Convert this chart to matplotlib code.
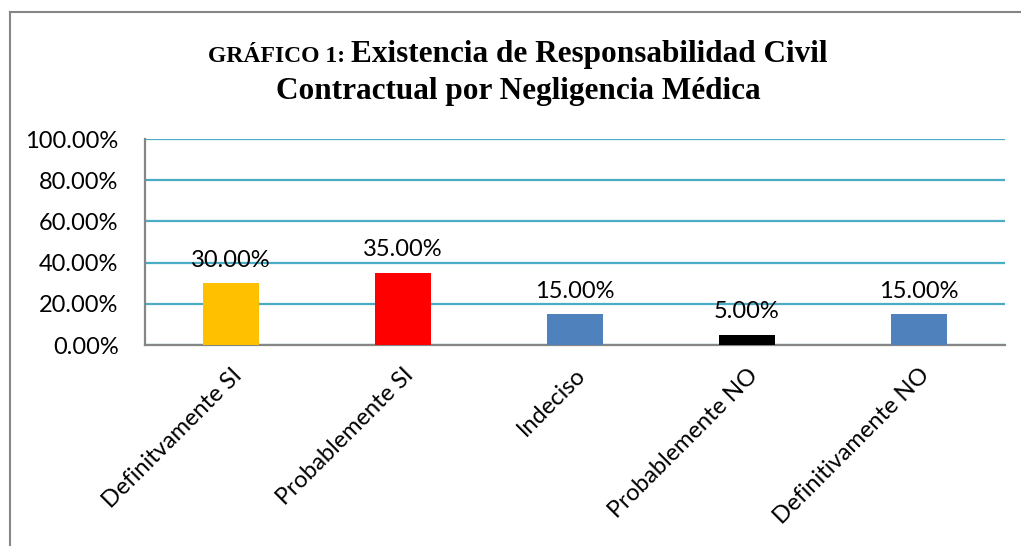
import matplotlib
matplotlib.use("Agg")
import matplotlib.pyplot as plt
from matplotlib.lines import Line2D
from matplotlib.ticker import FuncFormatter

categories = ["Definitvamente SI", "Probablemente SI", "Indeciso", "Probablemente NO", "Definitivamente NO"]
values = [30.0, 35.0, 15.0, 5.0, 15.0]
colors = ["#FFC000", "#FF0000", "#4F81BD", "#000000", "#4F81BD"]
yticks = [0, 20, 40, 60, 80, 100]

W, H = 1021, 546
fig = plt.figure(figsize=(W / 100, H / 100), dpi=100)
fig.patch.set_facecolor("white")

lab_font = "Lato"
fs = 17
ax = fig.add_axes([145 / W, 1 - 345 / H, (1005 - 145) / W, (345 - 139) / H])
x = range(len(categories))
bars = ax.bar(x, values, width=0.33, color=colors, zorder=3)
ax.set_xlim(-0.5, len(categories) - 0.5)
ax.set_ylim(0, 100)
ax.set_yticks(yticks)
ax.yaxis.set_major_formatter(FuncFormatter(lambda v, p: f"{v:.2f}%"))
ax.grid(axis="y", color="#4BACC6", linewidth=1.6, zorder=0)
for s in ["top", "right"]:
    ax.spines[s].set_visible(False)
for s in ["left", "bottom"]:
    ax.spines[s].set_color("#868686")
    ax.spines[s].set_linewidth(1.6)
ax.tick_params(axis="both", length=0, labelsize=fs, colors="black")
ax.tick_params(axis="y", pad=19)
for t in ax.get_yticklabels():
    t.set_fontfamily(lab_font)
ax.set_xticks(list(x))
ax.set_xticklabels(categories, rotation=45, ha="right", rotation_mode="anchor",
                   fontfamily=lab_font, fontsize=fs)
ax.tick_params(axis="x", pad=14)

for b, v in zip(bars, values):
    ax.annotate(f"{v:.2f}%", (b.get_x() + b.get_width() / 2, v), xytext=(0, 9),
                textcoords="offset points", ha="center", va="bottom",
                fontsize=fs, fontfamily=lab_font, zorder=4)

cx = 518
fig.text(cx / W, 1 - 99 / H, "Contractual por Negligencia Médica", fontfamily="Liberation Serif",
         fontweight="bold", fontsize=22.5, ha="center", va="baseline")

fig.canvas.draw()
r = fig.canvas.get_renderer()
small = fig.text(0, 1 - 62 / H, "GRÁFICO 1: ", fontfamily="Liberation Serif", fontweight="bold",
                 fontsize=17, ha="left", va="baseline")
big = fig.text(0, 1 - 62 / H, "Existencia de Responsabilidad Civil", fontfamily="Liberation Serif",
               fontweight="bold", fontsize=22.5, ha="left", va="baseline")
ws = small.get_window_extent(r).width
wb = big.get_window_extent(r).width
x0 = cx - (ws + wb) / 2
small.set_position((x0 / W, 1 - 62 / H))
big.set_position(((x0 + ws) / W, 1 - 62 / H))

fig.add_artist(Line2D([10 / W, 10 / W], [0, 1 - 12 / H], transform=fig.transFigure,
                      color="#868686", linewidth=1.5))
fig.add_artist(Line2D([10 / W, 1], [1 - 12 / H, 1 - 12 / H], transform=fig.transFigure,
                      color="#868686", linewidth=1.5))

fig.savefig("out.png", dpi=100, facecolor="white")
